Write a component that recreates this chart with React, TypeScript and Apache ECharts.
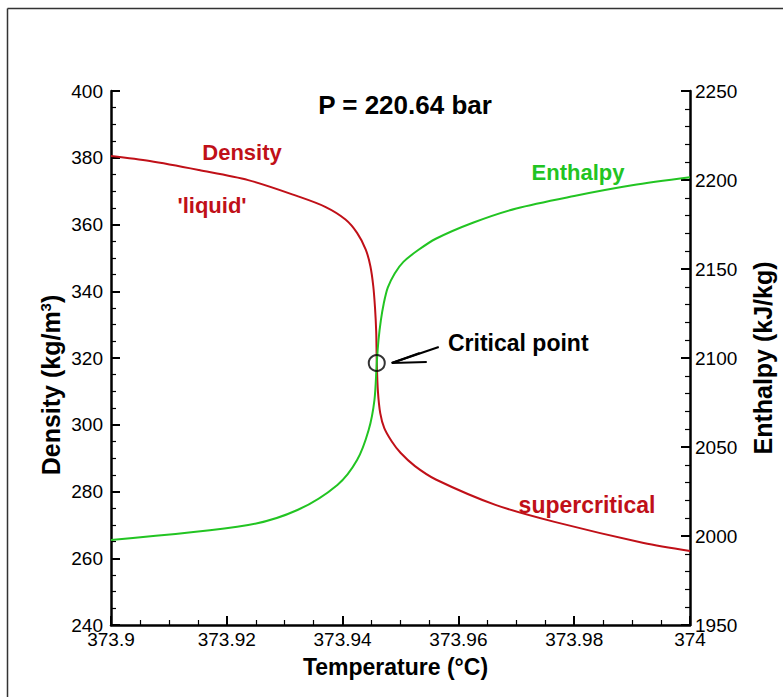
import React, { useEffect, useRef } from "react";
import * as echarts from "echarts";

const densityT = [373.9, 373.9067, 373.9152, 373.9237, 373.9322, 373.937, 373.9405, 373.9425, 373.944, 373.9448, 373.9453, 373.9456, 373.9458, 373.9459, 373.9461, 373.9465, 373.9472, 373.9485, 373.95, 373.9525, 373.9561, 373.9664, 373.9766, 373.992, 374.0];
const densityV = [380.5, 379.0, 376.3, 373.3, 368.5, 365.3, 361.5, 357.5, 352.5, 347.5, 341.5, 335.0, 328.0, 318.9, 310.0, 303.5, 299.0, 295.0, 291.6, 287.6, 283.6, 276.0, 270.9, 264.6, 262.2];

const enthalpyT = [373.9, 373.9237, 373.9322, 373.9391, 373.9425, 373.9445, 373.9455, 373.9459, 373.9462, 373.9466, 373.9471, 373.9478, 373.949, 373.9505, 373.953, 373.9561, 373.9625, 373.97, 373.98, 373.99, 374.0];
const enthalpyV = [1997.8, 2006.2, 2014.6, 2028.7, 2042.7, 2059.6, 2076.4, 2097.2, 2110.1, 2121.0, 2130.5, 2139.5, 2147.5, 2154.0, 2160.5, 2167.0, 2176.0, 2184.0, 2191.0, 2197.0, 2201.5];

const critical = [373.9459, 318.5];

const xTicks = { min: 373.9, max: 374.0, interval: 0.02 };
const yLeftTicks = { min: 240, max: 400, interval: 20 };
const yRightTicks = { min: 1950, max: 2250, interval: 50 };

const RED = "#c01018";
const GREEN = "#22c422";
const FONT = "Liberation Sans, Arial, sans-serif";

export default function App() {
  const ref = useRef<HTMLDivElement>(null);
  useEffect(() => {
    if (!ref.current) return;
    const chart = echarts.init(ref.current, null, { renderer: "svg" });
    const axisCommon = {
      axisLine: { show: true, lineStyle: { color: "#000", width: 2.5 } },
      axisTick: { show: true, inside: true, length: 9, lineStyle: { color: "#000", width: 2 } },
      minorTick: { show: true, length: 5, lineStyle: { color: "#000", width: 1.2 } },
      splitLine: { show: false },
      axisLabel: { color: "#000", fontSize: 19, fontFamily: FONT, formatter: (v: number) => String(parseFloat(v.toFixed(4))) },
      nameTextStyle: { color: "#000", fontSize: 25, fontWeight: "bold", fontFamily: FONT },
    };
    const option: any = {
      animation: false,
      backgroundColor: "#fff",
      grid: { left: 111, right: 86, top: 91, bottom: 72 },
      xAxis: {
        type: "value",
        ...xTicks,
        ...axisCommon,
        minorTick: { ...axisCommon.minorTick, splitNumber: 4 },
        axisLabel: { ...axisCommon.axisLabel, margin: 5 },
        name: "Temperature (°C)",
        nameLocation: "middle",
        nameGap: 30,
        nameTextStyle: { ...axisCommon.nameTextStyle, fontSize: 23, padding: [0, 10, 0, 0] },
      },
      yAxis: [
        {
          type: "value",
          ...yLeftTicks,
          ...axisCommon,
          minorTick: { ...axisCommon.minorTick, splitNumber: 4 },
          axisLabel: { ...axisCommon.axisLabel, margin: 8 },
        },
        {
          type: "value",
          position: "right",
          ...yRightTicks,
          ...axisCommon,
          minorTick: { ...axisCommon.minorTick, splitNumber: 5 },
          axisLabel: { ...axisCommon.axisLabel, margin: 5 },
          name: "Enthalpy (kJ/kg)",
          nameLocation: "middle",
          nameRotate: 90,
          nameGap: 60,
        },
      ],
      series: [
        {
          name: "Density",
          type: "line",
          yAxisIndex: 0,
          data: densityT.map((t, i) => [t, densityV[i]]),
          showSymbol: false,
          smooth: 0.3,
          lineStyle: { color: RED, width: 2 },
          itemStyle: { color: RED },
        },
        {
          name: "Enthalpy",
          type: "line",
          yAxisIndex: 1,
          data: enthalpyT.map((t, i) => [t, enthalpyV[i]]),
          showSymbol: false,
          smooth: 0.3,
          lineStyle: { color: GREEN, width: 2 },
          itemStyle: { color: GREEN },
        },
        {
          name: "Critical point",
          type: "scatter",
          yAxisIndex: 0,
          data: [critical],
          symbol: "circle",
          symbolSize: 16,
          itemStyle: { color: "rgba(0,0,0,0)", borderColor: "#000", borderWidth: 2 },
          z: 5,
        },
      ],
    };
    chart.setOption(option);
    const p = chart.convertToPixel({ xAxisIndex: 0, yAxisIndex: 0 }, critical) as number[];
    const tip = [p[0] + 15, p[1]];
    const textStyle = (color: string, size = 22) => ({
      fill: color,
      fontSize: size,
      fontWeight: "bold",
      fontFamily: FONT,
      align: "center",
      verticalAlign: "middle",
    });
    chart.setOption({
      graphic: [
        { type: "line", shape: { x1: 7.5, y1: 8.5, x2: 783, y2: 8.5 }, style: { stroke: "#333", lineWidth: 1.5 } },
        { type: "line", shape: { x1: 7.5, y1: 8.5, x2: 7.5, y2: 697 }, style: { stroke: "#333", lineWidth: 1.5 } },
        {
          type: "text",
          x: 51,
          y: 385,
          rotation: Math.PI / 2,
          style: {
            text: "Density (kg/m{sup|3})",
            ...textStyle("#000", 25),
            rich: {
              sup: { fontSize: 15, fontWeight: "bold", fontFamily: FONT, fill: "#000", verticalAlign: "top", padding: [0, 0, 12, 0] },
            },
          },
        },
        { type: "text", x: 405, y: 105, style: { text: "P = 220.64 bar", ...textStyle("#000", 26) } },
        { type: "text", x: 242, y: 152, style: { text: "Density", ...textStyle(RED) } },
        { type: "text", x: 212, y: 205, style: { text: "'liquid'", ...textStyle(RED) } },
        { type: "text", x: 578, y: 172, style: { text: "Enthalpy", ...textStyle(GREEN) } },
        { type: "text", x: 587, y: 505, style: { text: "supercritical", ...textStyle(RED, 23) } },
        { type: "text", x: 448, y: p[1] - 20, style: { text: "Critical point", ...textStyle("#000", 23), align: "left" } },
        { type: "line", shape: { x1: tip[0], y1: tip[1], x2: tip[0] + 47, y2: tip[1] - 16 }, style: { stroke: "#000", lineWidth: 2 } },
        { type: "line", shape: { x1: tip[0], y1: tip[1], x2: tip[0] + 28, y2: tip[1] - 10 }, style: { stroke: "#000", lineWidth: 2 } },
        { type: "line", shape: { x1: tip[0], y1: tip[1], x2: tip[0] + 35, y2: tip[1] - 1 }, style: { stroke: "#000", lineWidth: 2 } },
      ],
    });
    return () => chart.dispose();
  }, []);
  return (
    <div
      ref={ref}
      style={{ position: "absolute", left: 0, top: 0, width: 783, height: 697, background: "#fff" }}
    />
  );
}
